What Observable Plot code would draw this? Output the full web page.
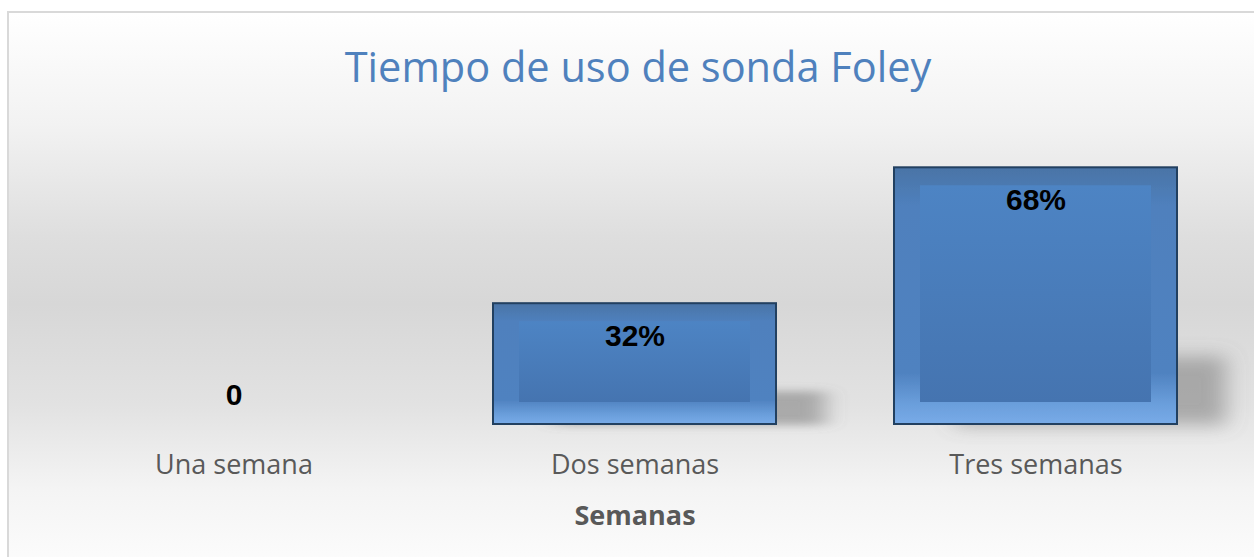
<!DOCTYPE html>
<html>
<head>
<meta charset="utf-8">
<script src="https://cdn.jsdelivr.net/npm/d3@7"></script>
<script src="https://cdn.jsdelivr.net/npm/@observablehq/plot@0.6"></script>
<style>
  html, body { margin: 0; padding: 0; width: 1254px; height: 557px; overflow: hidden; background: #fff; }
  #frame {
    position: absolute; left: 7px; top: 11px; width: 1260px; height: 560px;
    border-left: 2px solid #d9d9d9; border-top: 2px solid #d9d9d9;
    background: linear-gradient(to bottom, #ffffff 0%, #f2f2f2 20%, #dedede 40%, #d7d7d7 52%, #e2e2e2 70%, #f4f4f4 85%, #fdfdfd 100%);
  }
  #title {
    position: absolute; left: 0; top: 36px; width: 1276px; height: 60px; line-height: 60px;
    text-align: center; font-family: "Open Sans", sans-serif; font-size: 41.5px; color: #4f81bd;
  }
  #chart { position: absolute; left: 0; top: 110px; }
  #chart svg { background: transparent; overflow: visible; }
  g[aria-label="x-axis label"] text { font-weight: bold; }
</style>
</head>
<body>
<div id="frame"></div>
<div id="title">Tiempo de uso de sonda Foley</div>
<div id="chart"></div>
<script>
const categories = ["Una semana", "Dos semanas", "Tres semanas"];
const values = [0, 32, 68];
const valueLabels = ["0", "32%", "68%"];
const xTitle = "Semanas";

const data = categories.map((c, i) => ({cat: c, value: values[i], label: valueLabels[i]}));

const plot = Plot.plot({
  width: 1254,
  height: 447,
  marginTop: 12,
  marginBottom: 133,
  marginLeft: 32,
  marginRight: 17,
  style: {background: "transparent", overflow: "visible"},
  x: {domain: categories, paddingInner: 0.295, paddingOuter: 0.1475, label: null},
  y: {domain: [0, 80], axis: null},
  marks: [
    Plot.axisX({
      tickSize: 0, tickPadding: 30, fontSize: 27,
      fontFamily: "Open Sans, sans-serif", color: "#595959",
      label: xTitle, labelAnchor: "center", labelOffset: 100
    }),
    Plot.barY(data.filter(d => d.value > 0), {
      x: "cat", y: "value", fill: "url(#bevelOuter)", stroke: "#243f60", strokeWidth: 2,
      className: "outerbar"
    }),
    Plot.barY(data.filter(d => d.value > 0), {
      x: "cat", y: "value", fill: "url(#bevelFace)",
      insetTop: 18, insetBottom: 22, insetLeft: 26, insetRight: 26
    }),
    Plot.text(data.filter(d => d.value > 0), {
      x: "cat", y: "value", text: "label", dy: 33,
      fontSize: 30, fontWeight: "bold", fontFamily: "Liberation Sans, Arial, sans-serif", fill: "#000"
    }),
    Plot.text(data.filter(d => d.value === 0), {
      x: "cat", y: "value", text: "label", dy: -29,
      fontSize: 30, fontWeight: "bold", fontFamily: "Liberation Sans, Arial, sans-serif", fill: "#000"
    })
  ]
});

const defs = `
<defs>
  <linearGradient id="bevelOuter" x1="0" y1="0" x2="0" y2="1">
    <stop offset="0%" stop-color="#4a74a6"/>
    <stop offset="15%" stop-color="#4f80bd"/>
    <stop offset="80%" stop-color="#4f82c0"/>
    <stop offset="92%" stop-color="#6a9edb"/>
    <stop offset="100%" stop-color="#78abe8"/>
  </linearGradient>
  <linearGradient id="bevelFace" x1="0" y1="0" x2="0" y2="1">
    <stop offset="0%" stop-color="#4d84c4"/>
    <stop offset="100%" stop-color="#4574b0"/>
  </linearGradient>
  <filter id="barShadow" x="-0.05" y="-0.05" width="1.45" height="1.2" primitiveUnits="objectBoundingBox">
    <feOffset in="SourceAlpha" dx="0.17" dy="0.74" result="off"/>
    <feOffset in="SourceAlpha" dx="0.22" dy="0" result="clipA"/>
    <feComposite in="off" in2="clipA" operator="in" result="sh"/>
    <feGaussianBlur in="sh" stdDeviation="0.04 0.035" result="blur"/>
    <feFlood flood-color="#707070" flood-opacity="0.5" result="col"/>
    <feComposite in="col" in2="blur" operator="in" result="shadow"/>
    <feMerge><feMergeNode in="shadow"/><feMergeNode in="SourceGraphic"/></feMerge>
  </filter>
</defs>`;
plot.insertAdjacentHTML("afterbegin", defs);
plot.querySelectorAll("g.outerbar rect, .outerbar rect").forEach(r => r.setAttribute("filter", "url(#barShadow)"));
document.getElementById("chart").appendChild(plot);
</script>
</body>
</html>
